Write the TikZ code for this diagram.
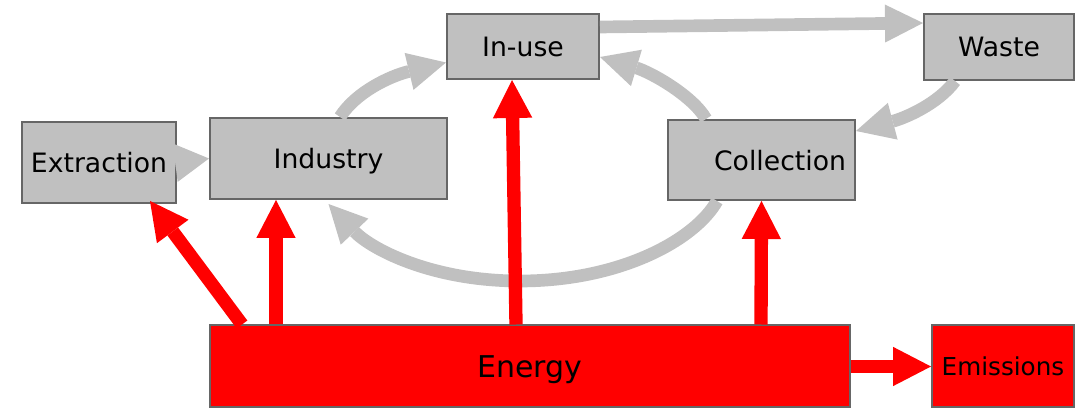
\documentclass[tikz,border=0pt]{standalone}
\usepackage{fontspec}
\setmainfont{DejaVu Sans}
\usetikzlibrary{arrows.meta,calc}

\definecolor{boxgray}{HTML}{C0C0C0}
\definecolor{edgegray}{HTML}{666666}
\definecolor{flowgray}{HTML}{C0C0C0}

\tikzset{
  stage/.style={draw=edgegray, line width=1.5pt, fill=boxgray, inner sep=0pt,
    text depth=0pt, font=\fontsize{20}{23}\selectfont},
  source/.style={stage, fill=red},
  flow/.style={draw=flowgray, line width=9.5pt,
    -{Triangle[length=28.5pt,width=28.5pt,line width=0pt]}},
  power/.style={draw=red, line width=10pt,
    -{Triangle[length=28.5pt,width=29.5pt,line width=0pt]}}
}

\begin{document}
\begin{tikzpicture}[x=0.75pt, y=-0.75pt]
  \useasboundingbox (0,0) rectangle (1078,409);

  \node[stage, minimum width=115.5pt, minimum height=60.75pt] (extraction) at (99,162.5) {Extraction};
  \node[stage, minimum width=177.75pt, minimum height=60.75pt] (industry) at (328.5,158.5) {Industry};
  \node[stage, minimum width=114pt, minimum height=48.75pt] (inuse) at (523,46.5) {In-use};
  \node[stage, minimum width=112.5pt, minimum height=49.5pt] (waste) at (999,47) {Waste};
  \node[stage, minimum width=140.25pt, minimum height=60pt, inner xsep=6.75pt,
        text width=126.75pt, align=right] (collection) at (761.5,160) {Collection};
  \node[source, minimum width=480pt, minimum height=61.5pt,
        font=\fontsize{22.5}{26}\selectfont] (energy) at (530,366.5) {Energy};
  \node[source, minimum width=106.5pt, minimum height=61.5pt,
        font=\fontsize{18.5}{21}\selectfont] (emissions) at (1003,366.5) {Emissions};

  % material loop
  \draw[flow, -{Triangle[length=25.5pt,width=29pt,line width=0pt]}] (extraction.east) -- (industry.west);
  \draw[flow] ($(industry.north)+(11.5,0)$) .. controls (356,92) and (390,76) .. ($(inuse.west)+(0,16)$);
  \draw[flow] ($(inuse.east)+(0,-19.5)$) -- ($(waste.west)+(0,-24)$);
  \draw[flow] ($(waste.south)+(-44,0)$) .. controls (938,104) and (905,118) .. ($(collection.east)+(0,-29)$);
  \draw[flow] ($(collection.north)+(-55.5,0)$) .. controls (692,95) and (650,72) .. ($(inuse.east)+(0,10.5)$);
  \draw[flow] ($(collection.south)+(-44.5,0)$) .. controls (695,240) and (620,281) .. (520,281)
    .. controls (430,281) and (370,248) .. ($(industry.south)+(0,4)$);

  % energy supply
  \draw[power] ($(energy.north west)+(33,0)$) -- ($(extraction.south)+(51,-3)$);
  \draw[power] ($(energy.north west)+(67,0)$) -- ($(industry.south west)+(67,0)$);
  \draw[power] ($(energy.north)+(-14,0)$) -- ($(inuse.south)+(-11,0)$);
  \draw[power] ($(energy.north)+(231,0)$) -- (collection.south);
  \draw[power] (energy.east) -- (emissions.west);
\end{tikzpicture}
\end{document}
